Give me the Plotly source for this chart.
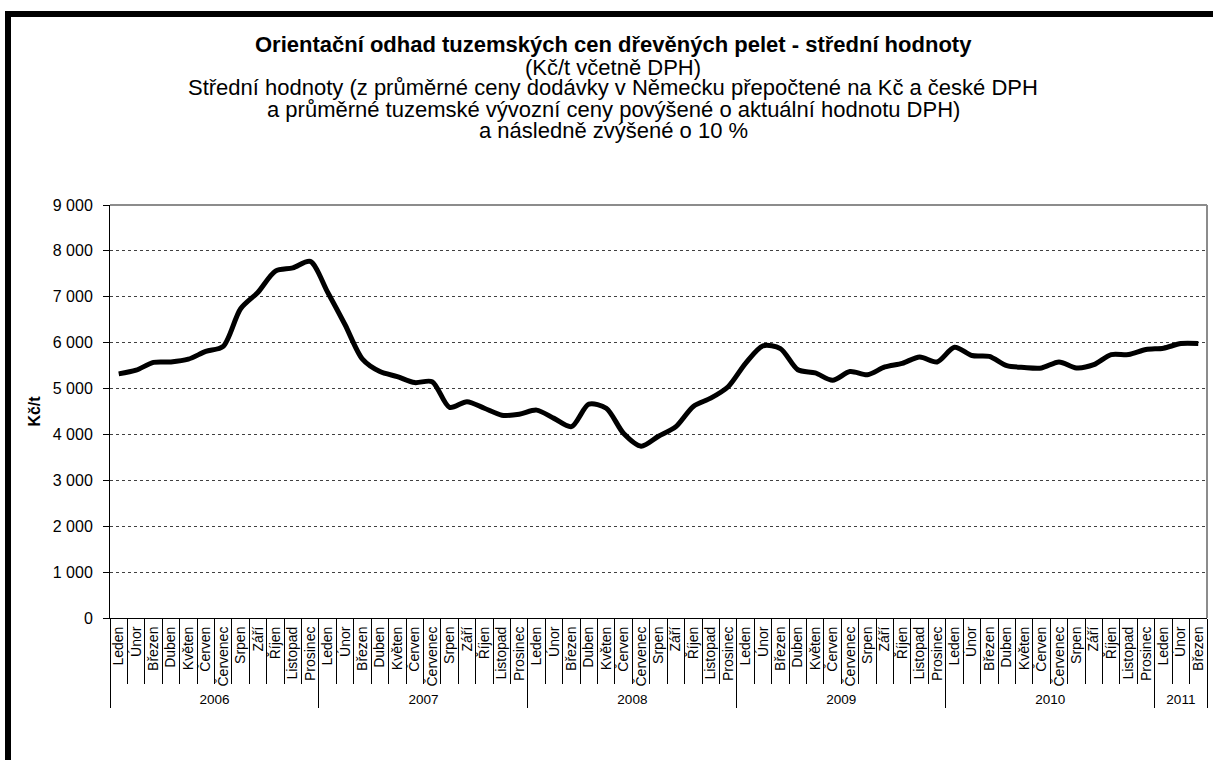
import plotly.graph_objects as go

months = ["Leden", "Únor", "Březen", "Duben", "Květen", "Červen",
          "Červenec", "Srpen", "Září", "Říjen", "Listopad", "Prosinec"]
years = ["2006", "2007", "2008", "2009", "2010", "2011"]
months_per_year = [12, 12, 12, 12, 12, 3]

prices = [
    5320, 5400, 5570, 5580, 5640, 5810, 5920, 6740, 7100, 7560, 7630, 7770,   # 2006
    7100, 6390, 5640, 5370, 5260, 5130, 5150, 4590, 4715, 4570, 4420, 4440,   # 2007
    4530, 4350, 4170, 4660, 4570, 4020, 3745, 3960, 4170, 4610, 4790, 5040,   # 2008
    5550, 5930, 5870, 5410, 5340, 5180, 5370, 5300, 5470, 5550, 5690, 5580,   # 2009
    5900, 5720, 5700, 5500, 5460, 5450, 5580, 5450, 5520, 5740, 5740, 5850,   # 2010
    5880, 5980, 5980,                                                         # 2011
]

title_line = "Orientační odhad tuzemských cen dřevěných pelet - střední hodnoty"
sub_lines = [
    "(Kč/t včetně DPH)",
    "Střední hodnoty (z průměrné ceny dodávky v Německu přepočtené na Kč a české DPH",
    "a průměrné tuzemské vývozní ceny povýšené o aktuální hodnotu DPH)",
    "a následně zvýšené o 10 %",
]
y_title = "Kč/t"

# build category labels
month_labels = []
for n in months_per_year:
    month_labels += months[:n]
idx = list(range(len(prices)))

# year group centers and boundaries
year_centers = []
year_bounds = [-0.5]
start = 0
for n in months_per_year:
    year_centers.append(start + (n - 1) / 2)
    start += n
    year_bounds.append(start - 0.5)

FONT = "Liberation Sans, Arial, sans-serif"
W, H = 1213, 760
L, R, T, B = 110, 6, 205, 142
PW, PH = W - L - R, H - T - B


def px_x(px):
    return (px - L) / PW


def px_y(py):
    return (H - B - py) / PH


fig = go.Figure()
fig.add_trace(go.Scatter(
    x=idx, y=prices, mode="lines",
    line=dict(color="black", width=5, shape="spline", smoothing=0.8),
    showlegend=False, hoverinfo="y",
))
# invisible trace to register the year axis
fig.add_trace(go.Scatter(
    x=idx, y=prices, mode="lines", xaxis="x2",
    line=dict(color="rgba(0,0,0,0)", width=0),
    showlegend=False, hoverinfo="skip",
))

rng = [-0.5, len(prices) - 0.5]

fig.update_layout(
    width=W, height=H,
    margin=dict(l=L, r=R, t=T, b=B),
    paper_bgcolor="white", plot_bgcolor="white",
    separators=", ",
    font=dict(family=FONT, color="black"),
    xaxis=dict(
        range=rng, tickmode="array", tickvals=idx, ticktext=month_labels,
        tickangle=-90, ticks="", tickfont=dict(size=14, family=FONT),
        ticklabelstandoff=2,
        showline=True, linecolor="black", linewidth=1,
        showgrid=False, zeroline=False,
        minor=dict(tickmode="array", tickvals=[i - 0.5 for i in range(len(prices) + 1)],
                   ticks="outside", ticklen=65, tickcolor="black", tickwidth=1, showgrid=False),
    ),
    xaxis2=dict(
        range=rng, overlaying="x", anchor="y", side="bottom",
        tickmode="array", tickvals=year_centers, ticktext=years,
        ticks="", tickfont=dict(size=13.5, family=FONT),
        ticklabelstandoff=71,
        showline=False, showgrid=False, zeroline=False,
        minor=dict(tickmode="array", tickvals=year_bounds,
                   ticks="outside", ticklen=89, tickcolor="black", tickwidth=1, showgrid=False),
    ),
    yaxis=dict(
        range=[0, 9000], tickmode="linear", tick0=0, dtick=1000,
        tickformat=",d", tickfont=dict(size=16, family=FONT),
        ticks="outside", ticklen=6, tickcolor="black",
        ticklabelstandoff=7,
        showline=True, linecolor="black", linewidth=1,
        showgrid=True, gridcolor="#404040", gridwidth=1, griddash="dot",
        zeroline=False,
        title=dict(text="<b>" + y_title + "</b>", font=dict(size=16, family=FONT), standoff=8),
    ),
    shapes=[
        # plot-area grey border (top and right)
        dict(type="line", xref="paper", yref="paper", x0=0, x1=1, y0=1, y1=1,
             line=dict(color="#8c8c8c", width=2), layer="above"),
        dict(type="line", xref="paper", yref="paper", x0=1, x1=1, y0=0, y1=1,
             line=dict(color="#8c8c8c", width=2), layer="above"),
        # black chart frame (left and top)
        dict(type="rect", xref="paper", yref="paper",
             x0=px_x(5), x1=px_x(11), y0=px_y(H + 5), y1=px_y(11),
             fillcolor="black", line=dict(width=0), layer="above"),
        dict(type="rect", xref="paper", yref="paper",
             x0=px_x(5), x1=px_x(W + 5), y0=px_y(17), y1=px_y(11),
             fillcolor="black", line=dict(width=0), layer="above"),
    ],
)

annotations = [dict(text="<b>" + title_line + "</b>", x=px_x(613), y=px_y(45),
                    xref="paper", yref="paper", xanchor="center", yanchor="middle",
                    showarrow=False, font=dict(size=22, family=FONT))]
for k, line in enumerate(sub_lines):
    annotations.append(dict(text=line, x=px_x(613), y=px_y(67 + 21 * k),
                            xref="paper", yref="paper", xanchor="center", yanchor="middle",
                            showarrow=False, font=dict(size=22, family=FONT)))
fig.update_layout(annotations=annotations)

fig.write_html("out.html", config={"displayModeBar": False},
               post_script="document.body.style.margin='0';")
